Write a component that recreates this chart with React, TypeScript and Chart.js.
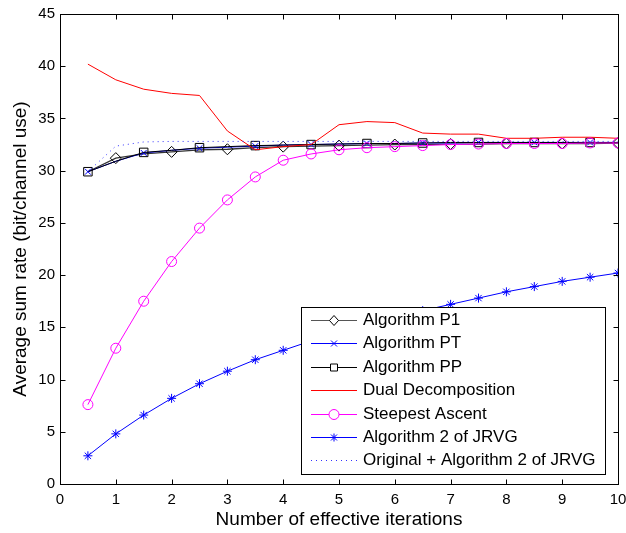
import React, { useEffect, useRef } from 'react';
import { Chart, registerables } from 'chart.js';

Chart.register(...registerables);

const FONT = "'Liberation Sans', Arial, Helvetica, sans-serif";

// Data
const iterations = [0.5, 1, 1.5, 2, 2.5, 3, 3.5, 4, 4.5, 5, 5.5, 6, 6.5, 7, 7.5, 8, 8.5, 9, 9.5, 10];
const algorithmP1 = [29.9, 31.2, 31.6, 31.8, 32.0, 32.05, 32.2, 32.3, 32.35, 32.4, 32.45, 32.5, 32.5, 32.55, 32.55, 32.6, 32.6, 32.6, 32.6, 32.65];
const algorithmPT = [29.9, 30.9, 31.7, 31.95, 32.15, 32.25, 32.35, 32.45, 32.5, 32.55, 32.6, 32.6, 32.65, 32.65, 32.7, 32.7, 32.7, 32.7, 32.7, 32.7];
const algorithmPP = [29.9, 30.9, 31.75, 31.95, 32.2, 32.3, 32.4, 32.45, 32.5, 32.55, 32.6, 32.6, 32.65, 32.7, 32.7, 32.7, 32.7, 32.7, 32.7, 32.7];
const dualDecomposition = [40.2, 38.7, 37.8, 37.4, 37.2, 33.8, 32.0, 32.3, 32.5, 34.4, 34.7, 34.6, 33.6, 33.5, 33.5, 33.1, 33.1, 33.2, 33.2, 33.1];
const steepestAscent = [7.6, 13.0, 17.5, 21.3, 24.5, 27.2, 29.4, 31.0, 31.6, 32.0, 32.2, 32.3, 32.4, 32.5, 32.55, 32.6, 32.6, 32.6, 32.65, 32.65];
const algorithm2JRVG = [2.7, 4.8, 6.6, 8.2, 9.6, 10.8, 11.9, 12.8, 13.7, 14.6, 15.3, 16.0, 16.6, 17.2, 17.8, 18.4, 18.9, 19.4, 19.8, 20.2];
const originalPlusJRVG = [29.9, 32.35, 32.75, 32.8, 32.8, 32.8, 32.8, 32.8, 32.8, 32.8, 32.8, 32.8, 32.8, 32.8, 32.8, 32.8, 32.8, 32.8, 32.8, 32.8];

const seriesLabels = [
  'Algorithm P1',
  'Algorithm PT',
  'Algorithm PP',
  'Dual Decomposition',
  'Steepest Ascent',
  'Algorithm 2 of JRVG',
  'Original + Algorithm 2 of JRVG',
];
const xTitle = 'Number of effective iterations';
const yTitle = 'Average sum rate (bit/channel use)';
const xMin = 0, xMax = 10, xStep = 1;
const yMin = 0, yMax = 45, yStep = 5;

const toPoints = (ys: number[]) => iterations.map((x, i) => ({ x, y: ys[i] }));
const everyOther = (r: number, odd: boolean) => iterations.map((_, i) => ((i % 2 === 1) === odd ? r : 0));

type Marker = 'diamond' | 'x' | 'square' | 'none' | 'circle' | 'star';

function drawMarker(ctx: CanvasRenderingContext2D, m: Marker, x: number, y: number, color: string) {
  ctx.save();
  ctx.strokeStyle = color;
  ctx.lineWidth = 1;
  ctx.beginPath();
  if (m === 'diamond') {
    ctx.moveTo(x, y - 5); ctx.lineTo(x + 4.5, y); ctx.lineTo(x, y + 5); ctx.lineTo(x - 4.5, y); ctx.closePath();
    ctx.fillStyle = '#fff'; ctx.fill();
  } else if (m === 'square') {
    ctx.rect(x - 3.5, y - 3.5, 7, 7);
    ctx.fillStyle = '#fff'; ctx.fill();
  } else if (m === 'x') {
    ctx.moveTo(x - 3, y - 3); ctx.lineTo(x + 3, y + 3); ctx.moveTo(x + 3, y - 3); ctx.lineTo(x - 3, y + 3);
  } else if (m === 'circle') {
    ctx.arc(x, y, 5, 0, Math.PI * 2);
    ctx.fillStyle = '#fff'; ctx.fill();
  } else if (m === 'star') {
    ctx.moveTo(x - 4, y); ctx.lineTo(x + 4, y); ctx.moveTo(x, y - 4); ctx.lineTo(x, y + 4);
    ctx.moveTo(x - 3, y - 3); ctx.lineTo(x + 3, y + 3); ctx.moveTo(x + 3, y - 3); ctx.lineTo(x - 3, y + 3);
  }
  if (m !== 'none') ctx.stroke();
  ctx.restore();
}

const legendEntries: { line: string; marker: string; m: Marker; dash: number[]; width: number }[] = [
  { line: '#555555', marker: '#000000', m: 'diamond', dash: [], width: 1.2 },
  { line: '#0000ff', marker: '#0000ff', m: 'x', dash: [], width: 1 },
  { line: '#000000', marker: '#000000', m: 'square', dash: [], width: 1 },
  { line: '#ff0000', marker: '#ff0000', m: 'none', dash: [], width: 1 },
  { line: '#ff00ff', marker: '#ff00ff', m: 'circle', dash: [], width: 1 },
  { line: '#0000ff', marker: '#0000ff', m: 'star', dash: [], width: 1 },
  { line: '#3333ff', marker: '#3333ff', m: 'none', dash: [1, 4], width: 1 },
];

const framePlugin = {
  id: 'frameTicks',
  afterDatasetsDraw(chart: any) {
    const { ctx, chartArea, scales } = chart;
    const L = Math.round(chartArea.left) + 0.5;
    const R = Math.round(chartArea.right) + 0.5;
    const T = Math.round(chartArea.top) + 0.5;
    const B = Math.round(chartArea.bottom) + 0.5;
    ctx.save();
    ctx.strokeStyle = '#000';
    ctx.lineWidth = 1;
    ctx.strokeRect(L, T, R - L, B - T);
    const len = 5;
    ctx.beginPath();
    scales.x.ticks.forEach((t: any) => {
      const px = Math.round(scales.x.getPixelForValue(t.value)) + 0.5;
      ctx.moveTo(px, B); ctx.lineTo(px, B - len);
      ctx.moveTo(px, T); ctx.lineTo(px, T + len);
    });
    scales.y.ticks.forEach((t: any) => {
      const py = Math.round(scales.y.getPixelForValue(t.value)) + 0.5;
      ctx.moveTo(L, py); ctx.lineTo(L + len, py);
      ctx.moveTo(R, py); ctx.lineTo(R - len, py);
    });
    ctx.stroke();
    ctx.restore();
  },
};

const legendPlugin = {
  id: 'insideLegend',
  afterDraw(chart: any) {
    const { ctx } = chart;
    const bx = 301.5, by = 307.5, bw = 304, bh = 167;
    ctx.save();
    ctx.fillStyle = '#fff';
    ctx.fillRect(bx, by, bw, bh);
    ctx.strokeStyle = '#000';
    ctx.lineWidth = 1;
    ctx.strokeRect(bx, by, bw, bh);
    const x0 = 311, x1 = 357, xm = 334, tx = 363;
    ctx.font = `17px ${FONT}`;
    ctx.textBaseline = 'middle';
    ctx.textAlign = 'left';
    legendEntries.forEach((e, i) => {
      const y = Math.round(320 + i * 23.4) + 0.5;
      ctx.save();
      ctx.strokeStyle = e.line;
      ctx.lineWidth = e.width;
      ctx.setLineDash(e.dash);
      ctx.beginPath();
      ctx.moveTo(x0, y); ctx.lineTo(x1, y);
      ctx.stroke();
      ctx.restore();
      drawMarker(ctx, e.m, xm, y, e.marker);
      ctx.fillStyle = '#000';
      ctx.fillText(seriesLabels[i], tx, y);
    });
    ctx.restore();
  },
};

export default function App() {
  const ref = useRef<HTMLCanvasElement>(null);

  useEffect(() => {
    if (!ref.current) return;
    const chart = new Chart(ref.current, {
      type: 'line',
      data: {
        datasets: [
          {
            label: seriesLabels[0], data: toPoints(algorithmP1), borderColor: '#333333', borderWidth: 1.3,
            pointStyle: 'rectRot', pointRadius: everyOther(5.5, true), pointBorderColor: '#000', pointBackgroundColor: 'rgba(0,0,0,0)', pointBorderWidth: 1, order: 6,
          },
          {
            label: seriesLabels[1], data: toPoints(algorithmPT), borderColor: '#0000ff', borderWidth: 1,
            pointStyle: 'crossRot', pointRadius: everyOther(4.2, false), pointBorderColor: '#0000ff', pointBorderWidth: 1, order: 5,
          },
          {
            label: seriesLabels[2], data: toPoints(algorithmPP), borderColor: '#000000', borderWidth: 1,
            pointStyle: 'rect', pointRadius: everyOther(6, false), pointBorderColor: '#000', pointBackgroundColor: 'rgba(0,0,0,0)', pointBorderWidth: 1, order: 4,
          },
          {
            label: seriesLabels[3], data: toPoints(dualDecomposition), borderColor: '#ff0000', borderWidth: 1,
            pointRadius: 0, order: 3,
          },
          {
            label: seriesLabels[4], data: toPoints(steepestAscent), borderColor: '#ff00ff', borderWidth: 1,
            pointStyle: 'circle', pointRadius: 5, pointBorderColor: '#ff00ff', pointBackgroundColor: 'rgba(0,0,0,0)', pointBorderWidth: 1, order: 2,
          },
          {
            label: seriesLabels[5], data: toPoints(algorithm2JRVG), borderColor: '#0000ff', borderWidth: 1,
            pointStyle: 'star', pointRadius: 4.5, pointBorderColor: '#0000ff', pointBorderWidth: 1, order: 1,
          },
          {
            label: seriesLabels[6], data: toPoints(originalPlusJRVG), borderColor: '#3333ff', borderWidth: 1,
            borderDash: [1, 4], pointRadius: 0, order: 0,
          },
        ],
      },
      options: {
        responsive: false,
        animation: false,
        events: [],
        layout: { padding: { left: 0, right: 0, top: 14, bottom: 0 } },
        plugins: { legend: { display: false }, tooltip: { enabled: false } },
        elements: { line: { tension: 0 } },
        scales: {
          x: {
            type: 'linear', min: xMin, max: xMax,
            ticks: { stepSize: xStep, padding: 7, color: '#000', font: { family: FONT, size: 15 }, maxRotation: 0, autoSkip: false },
            grid: { display: false, drawTicks: false },
            border: { display: false },
            title: { display: true, text: xTitle, color: '#000', font: { family: FONT, size: 19 }, padding: { top: 0, bottom: 2 } },
            afterFit: (s: any) => { s.height = 49; s.paddingLeft = 0; s.paddingRight = 8; },
          },
          y: {
            type: 'linear', min: yMin, max: yMax,
            ticks: { stepSize: yStep, padding: 5, color: '#000', font: { family: FONT, size: 15 } },
            grid: { display: false, drawTicks: false },
            border: { display: false },
            title: { display: true, text: yTitle, color: '#000', font: { family: FONT, size: 19 }, padding: { top: 9, bottom: 0 } },
            afterFit: (s: any) => { s.width = 60; },
          },
        },
      },
      plugins: [framePlugin, legendPlugin],
    } as any);
    return () => chart.destroy();
  }, []);

  return (
    <div style={{ position: 'fixed', left: 0, top: 0, width: 626, height: 533, background: '#fff' }}>
      <canvas ref={ref} width={626} height={533} />
    </div>
  );
}
